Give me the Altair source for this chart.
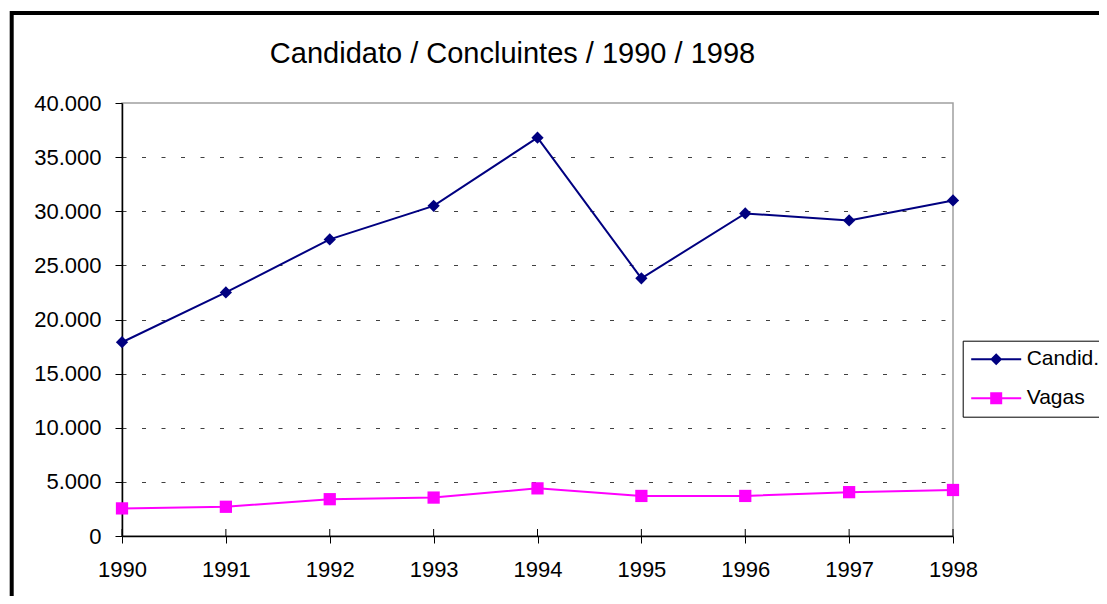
import altair as alt
import pandas as pd

years = ["1990", "1991", "1992", "1993", "1994", "1995", "1996", "1997", "1998"]
candid = [17900, 22500, 27400, 30500, 36800, 23800, 29800, 29150, 31000]
vagas = [2550, 2700, 3400, 3550, 4400, 3700, 3700, 4050, 4250]
series_names = ["Candid.", "Vagas"]
series_colors = ["#000080", "#FF00FF"]
series_shapes = ["diamond", "square"]
legend_shapes = [
    "M-2.5,-0.1H2.5V0.1H-2.5Z M0,-0.6L0.6,0L0,0.6L-0.6,0Z",
    "M-2.5,-0.1H2.5V0.1H-2.5Z M-0.6,-0.6H0.6V0.6H-0.6Z",
]
y_ticks = [0, 5000, 10000, 15000, 20000, 25000, 30000, 35000, 40000]
title_text = "Candidato / Concluintes / 1990 / 1998"

rows = []
for i, yr in enumerate(years):
    rows.append({"ano": yr, "serie": series_names[0], "valor": candid[i]})
    rows.append({"ano": yr, "serie": series_names[1], "valor": vagas[i]})
df = pd.DataFrame(rows)

W, H = 831, 433
FONT = "Liberation Sans"

x_enc = alt.X(
    "ano:O",
    scale=alt.Scale(type="point", padding=0),
    axis=alt.Axis(
        title=None, labelAngle=0, labelFont=FONT, labelFontSize=22,
        labelColor="black", tickColor="black", tickSize=7, tickWidth=1,
        domainColor="black", domainWidth=1.5, labelPadding=16, grid=False,
    ),
)
y_enc = alt.Y(
    "valor:Q",
    scale=alt.Scale(domain=[0, 40000], nice=False),
    axis=alt.Axis(
        title=None, values=y_ticks, labelFont=FONT, labelFontSize=22,
        labelColor="black", tickColor="black", tickSize=7, tickWidth=1,
        domainColor="black", domainWidth=1.5, labelPadding=14,
        labelExpr="replace(format(datum.value, ','), ',', '.')",
        grid=True, gridColor="#404040", gridDash=[4, 15.5], gridWidth=1,
        gridOpacity={"condition": {"test": "datum.value === 0 || datum.value === 40000", "value": 0}, "value": 1},
    ),
)

color_scale = alt.Scale(domain=series_names, range=series_colors)

legend = alt.Legend(
    title=None, orient="none", legendX=840.7, legendY=237.7,
    strokeColor="black", fillColor="white", padding=8,
    labelFont=FONT, labelFontSize=21, labelColor="black",
    symbolSize=400, symbolStrokeWidth=0, symbolOffset=15, labelOffset=20,
    symbolOpacity=1, rowPadding=17,
)

base = alt.Chart(df)

legend_layer = base.mark_point(filled=True, opacity=0).encode(
    x=x_enc, y=y_enc,
    color=alt.Color("serie:N", scale=color_scale, legend=legend),
    shape=alt.Shape("serie:N", scale=alt.Scale(domain=series_names, range=legend_shapes), legend=legend),
)

lines = base.mark_line(strokeWidth=2).encode(
    x=x_enc, y=y_enc,
    color=alt.Color("serie:N", scale=color_scale, legend=None),
)
pts_candid = base.transform_filter(alt.datum.serie == series_names[0]).mark_point(
    filled=True, opacity=1, size=150, shape=series_shapes[0]
).encode(x=x_enc, y=y_enc, color=alt.Color("serie:N", scale=color_scale, legend=None))
pts_vagas = base.transform_filter(alt.datum.serie == series_names[1]).mark_point(
    filled=True, opacity=1, size=150, shape=series_shapes[1]
).encode(x=x_enc, y=y_enc, color=alt.Color("serie:N", scale=color_scale, legend=None))

ticks_up = alt.Chart(pd.DataFrame({"ano": years})).mark_rule(color="black", strokeWidth=1).encode(
    x=alt.X("ano:O"), y=alt.value(H - 7), y2=alt.value(H)
)

frame = alt.Chart(pd.DataFrame({"k": [0]})).mark_rect(
    fillOpacity=0, stroke="black", strokeWidth=4
).encode(x=alt.value(-110.3), x2=alt.value(1500), y=alt.value(-90), y2=alt.value(1000))

chart = alt.layer(legend_layer, frame, ticks_up, lines, pts_candid, pts_vagas).properties(
    width=W, height=H,
    autosize=alt.AutoSizeParams(type="none"),
    padding={"left": 114, "top": 95, "right": 146, "bottom": 60},
    background="white",
    title=alt.TitleParams(
        text=title_text, font=FONT, fontSize=29, fontWeight="normal",
        color="black", anchor="middle", frame="group", dx=-25, offset=-58,
    ),
).configure_view(stroke="#a0a0a0", strokeWidth=1.5)

chart.save("out.html", embed_options={"renderer": "svg", "actions": False})
